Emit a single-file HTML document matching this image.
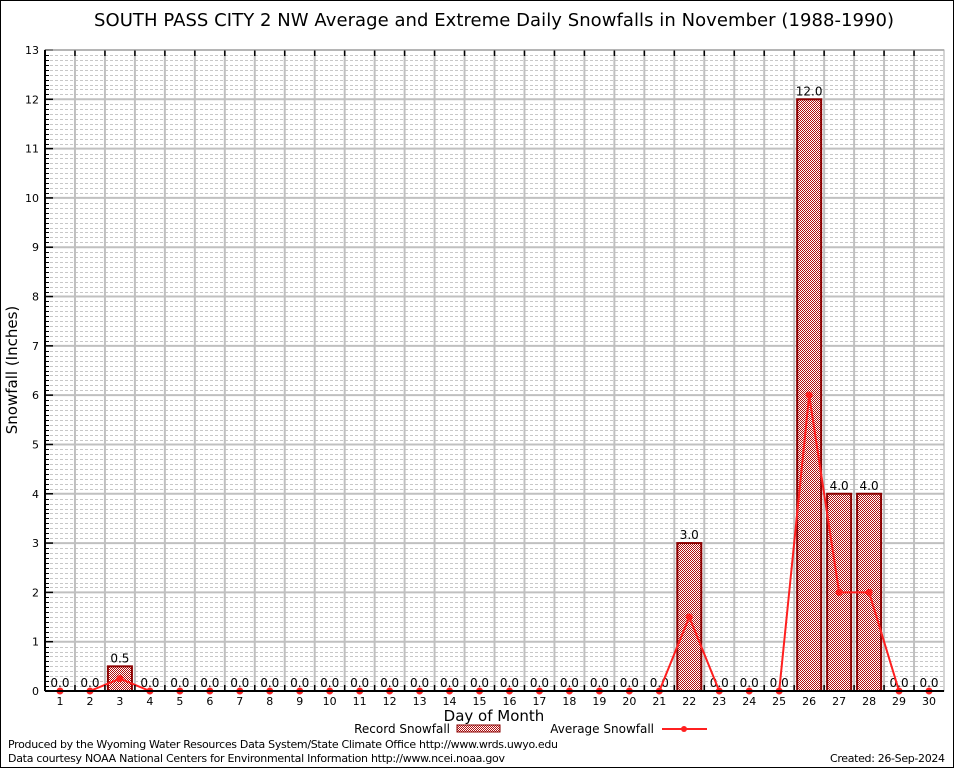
<!DOCTYPE html>
<html><head><meta charset="utf-8"><style>
body{margin:0;background:#fff;}
svg text{font-family:"DejaVu Sans","Liberation Sans",sans-serif;}
</style></head><body>
<svg width="954" height="768" xmlns="http://www.w3.org/2000/svg">
<defs>
<pattern id="chk" width="2" height="2" patternUnits="userSpaceOnUse">
<rect width="2" height="2" fill="#fff"/><rect width="1" height="1" fill="#b01010"/><rect x="1" y="1" width="1" height="1" fill="#b01010"/>
</pattern>
</defs>
<rect x="0.5" y="0.5" width="953" height="767" fill="#fff" stroke="#000"/>
<text x="494" y="26" font-size="18" text-anchor="middle" textLength="800">SOUTH PASS CITY 2 NW Average and Extreme Daily Snowfalls in November (1988-1990)</text>
<g id="grid"></g>
<g id="bars"></g>
<g id="line"></g>
<g id="axes"></g>
<text x="17" y="370" font-size="15" text-anchor="middle" transform="rotate(-90 17 370)">Snowfall (Inches)</text>
<text x="494" y="721" font-size="15" text-anchor="middle">Day of Month</text>
<g>
<text x="450" y="733" font-size="12" text-anchor="end">Record Snowfall</text>
<rect x="457" y="725" width="43" height="7" fill="url(#chk)" stroke="#8b0000"/>
</g>
<g>
<text x="654" y="733" font-size="12" text-anchor="end">Average Snowfall</text>
<line x1="662" y1="729" x2="707" y2="729" stroke="#ff2020" stroke-width="2"/>
<circle cx="684" cy="729" r="3" fill="#ff2020"/>
</g>
<text x="8" y="748" font-size="11" textLength="550">Produced by the Wyoming Water Resources Data System/State Climate Office http://www.wrds.uwyo.edu</text>
<text x="8" y="762" font-size="11" textLength="497">Data courtesy NOAA National Centers for Environmental Information http://www.ncei.noaa.gov</text>
<text x="945" y="762" font-size="11" text-anchor="end" textLength="115">Created: 26-Sep-2024</text>
</svg>
<script>
const days=[1,2,3,4,5,6,7,8,9,10,11,12,13,14,15,16,17,18,19,20,21,22,23,24,25,26,27,28,29,30];
const recordSnow=[0,0,0.5,0,0,0,0,0,0,0,0,0,0,0,0,0,0,0,0,0,0,3,0,0,0,12,4,4,0,0];
const avgSnow=[0,0,0.25,0,0,0,0,0,0,0,0,0,0,0,0,0,0,0,0,0,0,1.5,0,0,0,6,2,2,0,0];
const yTicks=[0,1,2,3,4,5,6,7,8,9,10,11,12,13];
const NS="http://www.w3.org/2000/svg";
const L=45,R=944,T=50,B=691,YMAX=13;
const xs=d=>L+(d-0.5)*(R-L)/30;
const ys=v=>B-v*(B-T)/YMAX;
function mk(p,tag,a){const e=document.createElementNS(NS,tag);for(const k in a)e.setAttribute(k,a[k]);p.appendChild(e);return e;}
const grid=document.getElementById('grid'),axes=document.getElementById('axes'),bars=document.getElementById('bars'),line=document.getElementById('line');
for(let v=0;v<YMAX;v+=0.1){const y=Math.round(ys(v))+0.5;if(Math.abs(v-Math.round(v))<1e-6)continue;
mk(grid,'line',{x1:L,x2:R,y1:y,y2:y,stroke:'#c8c8c8','stroke-dasharray':'3,2','stroke-width':1});
mk(axes,'line',{x1:L,x2:L+4,y1:y,y2:y,stroke:'#000'});}
yTicks.forEach(v=>{const y=ys(v);
mk(grid,'line',{x1:L,x2:R,y1:y,y2:y,stroke:'#c0c0c0','stroke-width':2});
mk(axes,'line',{x1:L,x2:L+8,y1:y,y2:y,stroke:'#000','stroke-width':1.5});
const t=mk(axes,'text',{x:L-6,y:y+4,'font-size':11,'text-anchor':'end','font-family':'Liberation Serif,serif'});t.textContent=v;});
for(let i=1;i<30;i++){const x=L+i*(R-L)/30;
mk(grid,'line',{x1:x,x2:x,y1:T,y2:B,stroke:'#c0c0c0','stroke-width':2});
mk(axes,'line',{x1:x,x2:x,y1:T,y2:T+6,stroke:'#000','stroke-width':1.5});
mk(axes,'line',{x1:x,x2:x,y1:B,y2:B-6,stroke:'#000','stroke-width':1.5});}
mk(axes,'rect',{x:L,y:T,width:R-L,height:B-T,fill:'none',stroke:'#aaa','stroke-width':1});
mk(axes,'line',{x1:L,x2:L,y1:T,y2:B,stroke:'#000','stroke-width':2});
mk(axes,'line',{x1:L,x2:R,y1:B,y2:B,stroke:'#000','stroke-width':2});
days.forEach((d,i)=>{const t=mk(axes,'text',{x:xs(d),y:B+14,'font-size':11,'text-anchor':'middle','font-family':'Liberation Serif,serif'});t.textContent=d;});
days.forEach((d,i)=>{const v=recordSnow[i];const x=xs(d);
if(v>0){const r=mk(bars,'rect',{x:x-12,y:ys(v),width:24,height:B-ys(v),fill:'url(#chk)',stroke:'#8b0000','stroke-width':2});

}
const t=mk(bars,'text',{x:x,y:ys(v)-4,'font-size':12,'text-anchor':'middle'});t.textContent=v.toFixed(1);

});
const pts=days.map((d,i)=>xs(d)+','+ys(avgSnow[i])).join(' ');
mk(line,'polyline',{points:pts,fill:'none',stroke:'#ff2020','stroke-width':2});
days.forEach((d,i)=>{const c=mk(line,'circle',{cx:xs(d),cy:ys(avgSnow[i]),r:3.5,fill:'#ff2020'});

});
</script>
</body></html>
